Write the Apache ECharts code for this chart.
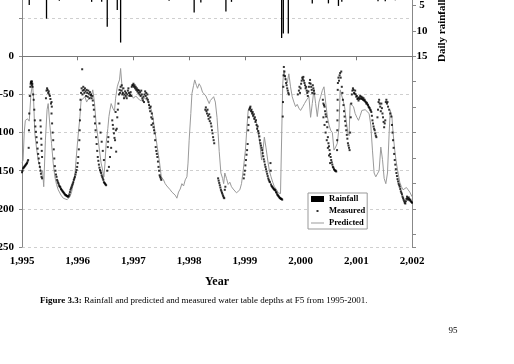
<!DOCTYPE html>
<html>
<head>
<meta charset="utf-8">
<title>F5 water table</title>
<script src="https://cdn.jsdelivr.net/npm/echarts@6.0.0/dist/echarts.min.js"></script>
<style>
  html, body { margin: 0; padding: 0; background: #fff; overflow: hidden; }
  #main { position: absolute; left: 0; top: -20px; width: 514px; height: 384px; }
</style>
</head>
<body>
<div id="main"></div>
<script>
// year ticks
var yearTicks = [1995, 1996, 1997, 1998, 1999, 2000, 2001, 2002];

// daily rainfall (mm) - only the bars that reach into the picture
var rainfall = [
  [1995.13, 4.9], [1995.44, 7.6], [1995.67, 4.1], [1996.25, 4.3], [1996.43, 4.3],
  [1996.53, 9.2], [1996.71, 5.9], [1996.77, 12.3], [1997.64, 4.1], [1998.09, 6.4],
  [1998.21, 4.4], [1998.66, 6.2], [1998.76, 4.3], [1999.66, 11.4], [1999.69, 10.5],
  [1999.78, 10.5], [2000.21, 4.6], [2000.50, 4.6], [2000.68, 5.1], [2000.74, 4.3],
  [2001.39, 4.2], [2001.52, 4.2], [2001.70, 4.0]
];

// measured water table depth (cm)
var measured1995 = [
  [1995.00,-152],[1995.01,-150],[1995.02,-147],[1995.03,-146],[1995.04,-145],[1995.05,-144],[1995.06,-143],
  [1995.07,-142],[1995.08,-141],[1995.09,-140],[1995.10,-138],[1995.11,-136],[1995.12,-120],[1995.125,-97],
  [1995.13,-75],[1995.14,-52],[1995.15,-40],[1995.155,-36],[1995.16,-34],[1995.165,-33],[1995.17,-35],
  [1995.175,-38],[1995.18,-33],[1995.185,-36],[1995.19,-40],[1995.20,-50],[1995.21,-57],[1995.22,-70],
  [1995.23,-84],[1995.24,-92],[1995.25,-99],[1995.26,-106],[1995.27,-113],[1995.28,-121],[1995.29,-128],
  [1995.30,-134],[1995.31,-140],[1995.32,-145],[1995.33,-150],[1995.34,-154],[1995.35,-158],[1995.36,-160],
  [1995.33,-84],[1995.335,-92],[1995.34,-100],[1995.345,-108],[1995.35,-116],[1995.355,-124],[1995.36,-132],
  [1995.43,-55],[1995.44,-45],[1995.45,-42],[1995.46,-44],[1995.47,-48],[1995.48,-46],[1995.49,-50],
  [1995.50,-52],[1995.51,-56],[1995.52,-62],[1995.53,-60],[1995.535,-66],[1995.53,-75],[1995.54,-88],
  [1995.55,-100],[1995.56,-110],[1995.57,-122],[1995.58,-134],[1995.59,-144],[1995.60,-150],[1995.61,-155],
  [1995.62,-158],[1995.63,-162],[1995.64,-164],[1995.65,-166],[1995.66,-168],[1995.67,-170],[1995.68,-171],
  [1995.69,-172],[1995.70,-174],[1995.71,-175],[1995.72,-176],[1995.73,-177],[1995.74,-178],[1995.75,-179],
  [1995.76,-180],[1995.77,-181],[1995.78,-182],[1995.79,-182],[1995.80,-183],[1995.81,-183],[1995.82,-184],
  [1995.83,-184],[1995.84,-183],[1995.85,-181],[1995.86,-178],[1995.87,-175],[1995.88,-173],[1995.89,-171],
  [1995.90,-169],[1995.91,-167],[1995.92,-165],[1995.93,-162],[1995.94,-160],[1995.95,-158],[1995.96,-155],
  [1995.97,-152],[1995.98,-149],[1995.99,-145]
];
var measured1996 = [
  [1996.00,-140],[1996.01,-132],[1996.02,-122],[1996.03,-110],[1996.035,-97],[1996.04,-84],[1996.045,-70],
  [1996.05,-57],[1996.06,-48],[1996.07,-42],[1996.08,-17],[1996.085,-50],[1996.09,-45],[1996.10,-40],
  [1996.11,-44],[1996.12,-48],[1996.13,-42],[1996.14,-46],[1996.15,-52],[1996.16,-44],[1996.17,-48],
  [1996.18,-53],[1996.19,-45],[1996.20,-49],[1996.21,-55],[1996.22,-47],[1996.23,-51],[1996.24,-50],
  [1996.25,-55],[1996.26,-52],[1996.27,-58],[1996.28,-64],[1996.29,-70],[1996.30,-79],[1996.31,-88],
  [1996.32,-97],[1996.33,-106],[1996.34,-115],[1996.35,-124],[1996.36,-132],[1996.37,-137],[1996.38,-142],
  [1996.39,-146],[1996.40,-149],[1996.41,-151],[1996.42,-153],[1996.43,-156],[1996.44,-158],[1996.45,-160],
  [1996.46,-162],[1996.47,-165],[1996.48,-166],[1996.49,-167],[1996.50,-168],[1996.51,-169],
  [1996.39,-88],[1996.41,-100],[1996.43,-112],[1996.45,-124],[1996.47,-136],
  [1996.53,-150],[1996.54,-119],[1996.545,-112],[1996.55,-106],[1996.56,-145],[1996.58,-132],[1996.60,-120],
  [1996.62,-84],[1996.63,-90],[1996.64,-95],[1996.65,-101],[1996.66,-107],[1996.67,-110],[1996.68,-73],
  [1996.685,-97],[1996.69,-125],[1996.70,-95],[1996.71,-80],[1996.72,-70],[1996.73,-62],[1996.74,-50],
  [1996.75,-44],[1996.76,-48],[1996.77,-40],[1996.78,-45],[1996.79,-38],[1996.80,-50],[1996.81,-48],
  [1996.82,-42],[1996.83,-55],[1996.84,-50],[1996.85,-46],[1996.86,-52],[1996.87,-48],[1996.88,-55],
  [1996.89,-50],[1996.90,-45],[1996.91,-42],[1996.92,-48],[1996.93,-52],[1996.94,-50],[1996.95,-47],
  [1996.96,-52],[1996.97,-40],[1996.98,-38],[1996.99,-38]
];
var measured1997 = [
  [1997.00,-36],[1997.01,-40],[1997.02,-38],[1997.03,-42],[1997.04,-40],[1997.05,-44],[1997.06,-42],
  [1997.07,-46],[1997.08,-44],[1997.09,-48],[1997.10,-45],[1997.11,-50],[1997.12,-47],[1997.13,-52],
  [1997.14,-45],[1997.15,-50],[1997.16,-55],[1997.17,-58],[1997.18,-53],[1997.19,-60],[1997.20,-50],
  [1997.21,-46],[1997.22,-52],[1997.23,-48],[1997.24,-55],[1997.25,-50],[1997.26,-57],[1997.27,-60],
  [1997.28,-64],[1997.29,-68],[1997.30,-72],[1997.31,-66],[1997.32,-80],[1997.325,-90],[1997.33,-75],
  [1997.34,-82],[1997.35,-88],[1997.36,-93],[1997.37,-97],[1997.38,-101],[1997.39,-110],[1997.40,-119],
  [1997.41,-124],[1997.42,-128],[1997.43,-132],[1997.44,-138],[1997.45,-145],[1997.46,-150],[1997.47,-156],
  [1997.48,-158],[1997.49,-160],[1997.50,-162]
];
var measured1998 = [
  [1998.29,-70],[1998.30,-67],[1998.31,-72],[1998.32,-75],[1998.33,-70],[1998.34,-78],[1998.35,-82],
  [1998.36,-76],[1998.37,-85],[1998.38,-80],[1998.39,-88],[1998.40,-92],[1998.41,-97],[1998.42,-101],
  [1998.43,-106],[1998.44,-110],[1998.45,-114],
  [1998.52,-160],[1998.53,-163],[1998.54,-166],[1998.55,-169],[1998.56,-172],[1998.57,-175],[1998.58,-177],
  [1998.59,-179],[1998.60,-181],[1998.61,-183],[1998.62,-185],[1998.63,-186],[1998.64,-175],[1998.65,-171],
  [1998.98,-160],[1998.99,-155]
];
var measured1999 = [
  [1999.00,-150],[1999.01,-143],[1999.02,-136],[1999.03,-129],[1999.04,-123],[1999.05,-115],[1999.06,-97],
  [1999.065,-90],[1999.07,-80],[1999.08,-70],[1999.09,-68],[1999.10,-66],[1999.11,-72],[1999.12,-70],
  [1999.13,-75],[1999.14,-73],[1999.15,-78],[1999.16,-76],[1999.17,-82],[1999.18,-80],[1999.19,-86],
  [1999.20,-84],[1999.21,-90],[1999.22,-95],[1999.23,-92],[1999.24,-98],[1999.25,-101],[1999.26,-105],
  [1999.27,-110],[1999.28,-114],[1999.29,-117],[1999.30,-120],[1999.31,-123],[1999.32,-127],[1999.33,-131],
  [1999.34,-135],[1999.35,-138],[1999.36,-142],[1999.37,-145],[1999.38,-148],[1999.39,-151],[1999.40,-154],
  [1999.41,-157],[1999.42,-160],[1999.43,-162],[1999.44,-164],[1999.45,-165],[1999.46,-140],[1999.465,-150],
  [1999.47,-168],[1999.48,-170],[1999.49,-171],[1999.50,-172],[1999.51,-173],[1999.52,-174],[1999.53,-175],
  [1999.54,-175],[1999.55,-176],[1999.56,-178],[1999.57,-179],[1999.58,-181],[1999.59,-182],[1999.60,-183],
  [1999.61,-184],[1999.62,-185],[1999.63,-186],[1999.64,-186],[1999.65,-187],[1999.66,-187],[1999.67,-188],
  [1999.68,-79],[1999.685,-60],[1999.69,-40],[1999.695,-25],[1999.70,-14],[1999.71,-20],[1999.72,-26],
  [1999.73,-30],[1999.74,-35],[1999.75,-38],[1999.76,-42],[1999.77,-45],[1999.78,-48],[1999.79,-50],
  [1999.95,-50],[1999.97,-45],[1999.98,-40],[1999.99,-48]
];
var measured2000 = [
  [2000.00,-42],[2000.01,-36],[2000.02,-32],[2000.03,-28],[2000.04,-30],[2000.05,-27],[2000.06,-32],
  [2000.07,-35],[2000.08,-38],[2000.09,-42],[2000.10,-40],[2000.11,-45],[2000.12,-48],[2000.13,-52],
  [2000.14,-46],[2000.15,-40],[2000.16,-35],[2000.17,-31],[2000.18,-36],[2000.19,-40],[2000.20,-44],
  [2000.21,-48],[2000.22,-38],[2000.23,-42],[2000.24,-45],[2000.25,-49],
  [2000.40,-57],[2000.41,-62],[2000.42,-64],[2000.43,-66],[2000.44,-72],[2000.45,-76],[2000.46,-79],
  [2000.47,-86],[2000.48,-93],[2000.49,-106],[2000.50,-114],[2000.51,-118],[2000.52,-123],[2000.53,-128],
  [2000.54,-132],[2000.55,-136],[2000.56,-139],[2000.57,-142],[2000.58,-145],[2000.59,-146],[2000.60,-148],
  [2000.61,-149],[2000.62,-150],[2000.63,-150],[2000.64,-151],
  [2000.41,-80],[2000.43,-90],[2000.45,-100],[2000.47,-110],[2000.49,-120],[2000.51,-130],[2000.53,-140],
  [2000.655,-123],[2000.657,-110],[2000.659,-97],[2000.661,-84],[2000.663,-71],[2000.665,-57],[2000.667,-44],
  [2000.67,-35],[2000.68,-28],[2000.69,-32],[2000.70,-25],[2000.71,-22],[2000.72,-28],[2000.73,-20],
  [2000.74,-40],[2000.75,-48],[2000.76,-57],[2000.77,-64],[2000.78,-72],[2000.79,-79],[2000.80,-85],
  [2000.81,-91],[2000.82,-97],[2000.83,-103],[2000.84,-108],[2000.85,-114],[2000.86,-117],[2000.87,-120],
  [2000.88,-123],[2000.89,-100],[2000.90,-80],[2000.91,-62],[2000.92,-50],[2000.93,-45],[2000.94,-42],
  [2000.95,-44],[2000.96,-48],[2000.97,-49],[2000.98,-45],[2000.99,-50]
];
var measured2001 = [
  [2001.00,-53],[2001.01,-52],[2001.02,-56],[2001.03,-55],[2001.04,-58],[2001.05,-54],[2001.06,-56],
  [2001.07,-52],[2001.08,-55],[2001.09,-53],[2001.10,-56],[2001.11,-54],[2001.12,-57],[2001.13,-55],
  [2001.14,-58],[2001.15,-57],[2001.16,-59],[2001.17,-60],[2001.18,-62],[2001.19,-61],[2001.20,-63],
  [2001.21,-64],[2001.22,-66],[2001.23,-67],[2001.24,-68],[2001.25,-70],[2001.26,-71],[2001.27,-73],
  [2001.28,-78],[2001.29,-84],[2001.30,-88],[2001.31,-92],[2001.32,-95],[2001.33,-97],[2001.34,-101],
  [2001.35,-104],[2001.36,-106],[2001.38,-80],[2001.39,-70],[2001.40,-60],[2001.41,-57],[2001.42,-62],
  [2001.43,-66],[2001.44,-72],[2001.45,-62],[2001.46,-68],[2001.47,-75],[2001.48,-80],[2001.49,-86],
  [2001.50,-93],[2001.51,-88],[2001.52,-84],[2001.53,-60],[2001.54,-57],[2001.55,-62],[2001.56,-60],
  [2001.57,-66],[2001.59,-70],[2001.61,-75],[2001.63,-79],[2001.64,-90],[2001.65,-100],[2001.66,-110],
  [2001.67,-120],[2001.68,-128],[2001.69,-136],[2001.70,-142],[2001.71,-148],[2001.72,-153],[2001.73,-157],
  [2001.74,-161],[2001.75,-164],[2001.76,-167],[2001.77,-169],[2001.78,-171],[2001.79,-174],[2001.80,-177],
  [2001.81,-179],[2001.82,-181],[2001.83,-184],[2001.84,-186],[2001.85,-188],[2001.86,-190],[2001.87,-192],
  [2001.88,-193],[2001.89,-190],[2001.90,-187],[2001.91,-184],[2001.92,-186],[2001.93,-188],[2001.94,-185],
  [2001.95,-187],[2001.96,-189],[2001.97,-188],[2001.98,-190],[2001.99,-191],[2002.00,-192]
];

// predicted water table depth (cm)
var predicted = [
  [1995.00,-140],[1995.02,-136],[1995.04,-100],[1995.06,-84],[1995.10,-82],[1995.13,-85],[1995.16,-50],
  [1995.19,-36],[1995.21,-60],[1995.23,-101],[1995.26,-120],[1995.29,-136],[1995.32,-145],[1995.35,-153],
  [1995.37,-150],[1995.39,-171],[1995.42,-110],[1995.45,-70],[1995.47,-62],[1995.50,-90],[1995.53,-114],
  [1995.56,-140],[1995.59,-158],[1995.62,-168],[1995.65,-175],[1995.70,-182],[1995.74,-186],[1995.77,-184],
  [1995.81,-188],[1995.86,-184],[1995.89,-178],[1995.92,-167],[1995.95,-155],[1995.97,-136],[1996.00,-110],
  [1996.04,-79],[1996.06,-58],[1996.09,-60],[1996.13,-53],[1996.16,-60],[1996.18,-57],[1996.22,-55],
  [1996.25,-50],[1996.27,-44],[1996.30,-60],[1996.33,-88],[1996.36,-105],[1996.39,-123],[1996.42,-140],
  [1996.45,-150],[1996.47,-158],[1996.49,-140],[1996.51,-114],[1996.54,-95],[1996.56,-79],[1996.58,-70],
  [1996.60,-62],[1996.63,-68],[1996.66,-72],[1996.68,-55],[1996.71,-40],[1996.73,-35],[1996.75,-31],
  [1996.77,-16],[1996.79,-35],[1996.81,-49],[1996.84,-55],[1996.87,-57],[1996.90,-52],[1996.93,-53],
  [1996.96,-50],[1997.00,-55],[1997.04,-52],[1997.08,-55],[1997.12,-58],[1997.16,-57],[1997.20,-55],
  [1997.24,-57],[1997.28,-62],[1997.32,-70],[1997.35,-80],[1997.38,-95],[1997.41,-110],[1997.44,-125],
  [1997.47,-140],[1997.50,-158],[1997.54,-162],[1997.57,-167],[1997.60,-170],[1997.63,-171],[1997.66,-175],
  [1997.69,-178],[1997.72,-177],[1997.75,-182],[1997.78,-186],[1997.81,-178],[1997.84,-174],[1997.87,-167],
  [1997.90,-170],[1997.93,-162],[1997.96,-158],[1997.98,-140],[1998.00,-110],[1998.03,-75],[1998.05,-49],
  [1998.08,-38],[1998.10,-31],[1998.13,-38],[1998.15,-42],[1998.18,-36],[1998.21,-40],[1998.24,-47],
  [1998.27,-49],[1998.30,-52],[1998.33,-50],[1998.36,-62],[1998.38,-58],[1998.41,-57],[1998.44,-53],
  [1998.47,-60],[1998.50,-80],[1998.52,-101],[1998.54,-125],[1998.57,-153],[1998.60,-160],[1998.62,-167],
  [1998.64,-153],[1998.67,-160],[1998.70,-168],[1998.73,-165],[1998.76,-171],[1998.79,-174],[1998.82,-176],
  [1998.85,-179],[1998.88,-178],[1998.91,-175],[1998.94,-167],[1998.97,-150],[1999.01,-123],[1999.04,-90],
  [1999.06,-71],[1999.09,-66],[1999.12,-72],[1999.15,-80],[1999.18,-84],[1999.21,-88],[1999.24,-101],
  [1999.27,-115],[1999.30,-136],[1999.33,-120],[1999.35,-106],[1999.38,-120],[1999.41,-136],[1999.44,-150],
  [1999.47,-158],[1999.50,-165],[1999.53,-171],[1999.57,-175],[1999.60,-179],[1999.64,-180],[1999.67,-178],
  [1999.68,-36],[1999.70,-18],[1999.73,-30],[1999.76,-35],[1999.79,-23],[1999.82,-40],[1999.85,-53],
  [1999.88,-60],[1999.91,-66],[1999.94,-63],[1999.97,-68],[2000.00,-71],[2000.04,-66],[2000.07,-62],
  [2000.11,-57],[2000.15,-53],[2000.18,-80],[2000.21,-62],[2000.24,-44],[2000.27,-62],[2000.30,-79],
  [2000.33,-60],[2000.36,-53],[2000.39,-45],[2000.42,-40],[2000.45,-60],[2000.48,-79],[2000.51,-90],
  [2000.54,-97],[2000.57,-100],[2000.60,-123],[2000.63,-119],[2000.66,-114],[2000.69,-93],[2000.71,-44],
  [2000.73,-42],[2000.76,-57],[2000.79,-66],[2000.82,-85],[2000.85,-101],[2000.87,-104],[2000.89,-62],
  [2000.92,-62],[2000.95,-66],[2000.98,-75],[2001.01,-80],[2001.04,-84],[2001.07,-78],[2001.10,-71],
  [2001.13,-70],[2001.16,-70],[2001.19,-72],[2001.23,-75],[2001.26,-90],[2001.29,-123],[2001.32,-153],
  [2001.35,-158],[2001.38,-158],[2001.41,-150],[2001.44,-119],[2001.47,-135],[2001.50,-160],[2001.53,-167],
  [2001.56,-153],[2001.59,-100],[2001.61,-71],[2001.64,-80],[2001.66,-100],[2001.69,-123],[2001.72,-140],
  [2001.75,-153],[2001.78,-165],[2001.81,-171],[2001.84,-175],[2001.87,-175],[2001.90,-172],[2001.93,-175],
  [2001.96,-178],[2002.00,-184]
];

var measured = measured1995.concat(measured1996, measured1997, measured1998,
  measured1999, measured2000, measured2001);

var SERIF = '"Liberation Serif", "Times New Roman", serif';
var dom = document.getElementById('main');
var myChart = echarts.init(dom, null, { renderer: 'canvas' });

var option = {
  animation: false,
  backgroundColor: '#fff',
  textStyle: { fontFamily: SERIF, color: '#000' },
  grid: { left: 22, right: 102, top: 0, bottom: 117, containLabel: false, outerBoundsMode: 'none' },
  legend: {
    orient: 'vertical',
    left: 308,
    top: 213,
    padding: [0, 2, 0, 3],
    itemGap: 0,
    itemWidth: 13,
    itemHeight: 6,
    borderColor: '#999',
    borderWidth: 1,
    backgroundColor: '#fff',
    textStyle: { fontFamily: SERIF, fontWeight: 'bold', fontSize: 8.5, color: '#000', lineHeight: 12 },
    data: [
      { name: 'Rainfall', icon: 'rect' },
      { name: 'Measured', icon: 'path://M0,0M13,6M5.5,2h2v2h-2z' },
      { name: 'Predicted', icon: 'path://M0,0M13,6M0,2.5h13v1h-13z' }
    ]
  },
  xAxis: {
    type: 'value',
    min: yearTicks[0],
    max: yearTicks[yearTicks.length - 1],
    interval: 1,
    name: 'Year',
    nameLocation: 'middle',
    nameGap: 29,
    nameTextStyle: { fontFamily: SERIF, fontWeight: 'bold', fontSize: 12, color: '#000' },
    axisLine: { lineStyle: { color: '#777', width: 1 } },
    axisTick: { show: true, length: 4, lineStyle: { color: '#777' } },
    axisLabel: { fontFamily: SERIF, fontWeight: 'bold', fontSize: 11, color: '#000', margin: 9 },
    splitLine: { show: false }
  },
  yAxis: [
    {
      type: 'value',
      min: -250,
      max: 100,
      interval: 50,
      axisLine: { show: true, lineStyle: { color: '#888', width: 1 } },
      axisTick: { show: true, length: 3, lineStyle: { color: '#888' } },
      axisLabel: {
        fontFamily: SERIF, fontWeight: 'bold', fontSize: 11, color: '#000', margin: 8,
        formatter: function (v) { return v <= 0 ? String(v) : ''; }
      },
      splitLine: { show: true, lineStyle: { color: '#cfcfcf', type: [3, 3], width: 1 } }
    },
    {
      type: 'value',
      position: 'right',
      inverse: true,
      min: 0,
      max: 52.5,
      interval: 5,
      axisLine: { show: true, lineStyle: { color: '#888', width: 1 } },
      axisTick: { show: true, length: 4, lineStyle: { color: '#888' } },
      axisLabel: {
        fontFamily: SERIF, fontWeight: 'bold', fontSize: 11, color: '#000',
        margin: 10, align: 'center',
        formatter: function (v) { return (v > 0 && v <= 15) ? String(v) : ''; }
      },
      splitLine: { show: false }
    }
  ],
  graphic: [
    {
      type: 'text',
      x: 442, y: 82, rotation: Math.PI / 2,
      style: {
        text: 'Daily rainfall (mm)',
        fontFamily: SERIF, fontWeight: 'bold', fontSize: 11, fill: '#000',
        textAlign: 'left', textVerticalAlign: 'middle'
      }
    },
    {
      type: 'text',
      x: 40, y: 321,
      style: {
        text: '{b|Figure 3.3:} Rainfall and predicted and measured water table depths at F5 from 1995-2001.',
        fontFamily: SERIF, fontSize: 9, fill: '#000',
        textVerticalAlign: 'middle',
        rich: { b: { fontFamily: SERIF, fontWeight: 'bold', fontSize: 9, fill: '#000' } }
      }
    },
    {
      type: 'text',
      x: 453, y: 351,
      style: { text: '95', fontFamily: SERIF, fontSize: 9, fill: '#000', textAlign: 'center', textVerticalAlign: 'middle' }
    }
  ],
  series: [
    {
      name: 'Rainfall',
      type: 'bar',
      xAxisIndex: 0,
      yAxisIndex: 1,
      barWidth: 1.3,
      itemStyle: { color: '#000' },
      data: rainfall,
      z: 2
    },
    {
      name: 'Measured',
      type: 'scatter',
      yAxisIndex: 0,
      symbol: 'rect',
      symbolSize: 2,
      itemStyle: { color: '#000' },
      data: measured,
      z: 4
    },
    {
      name: 'Predicted',
      type: 'line',
      yAxisIndex: 0,
      symbol: 'none',
      showSymbol: false,
      lineStyle: { color: '#9a9a9a', width: 1 },
      itemStyle: { color: '#9a9a9a' },
      data: predicted,
      z: 3
    }
  ]
};

myChart.setOption(option);
</script>
</body>
</html>
